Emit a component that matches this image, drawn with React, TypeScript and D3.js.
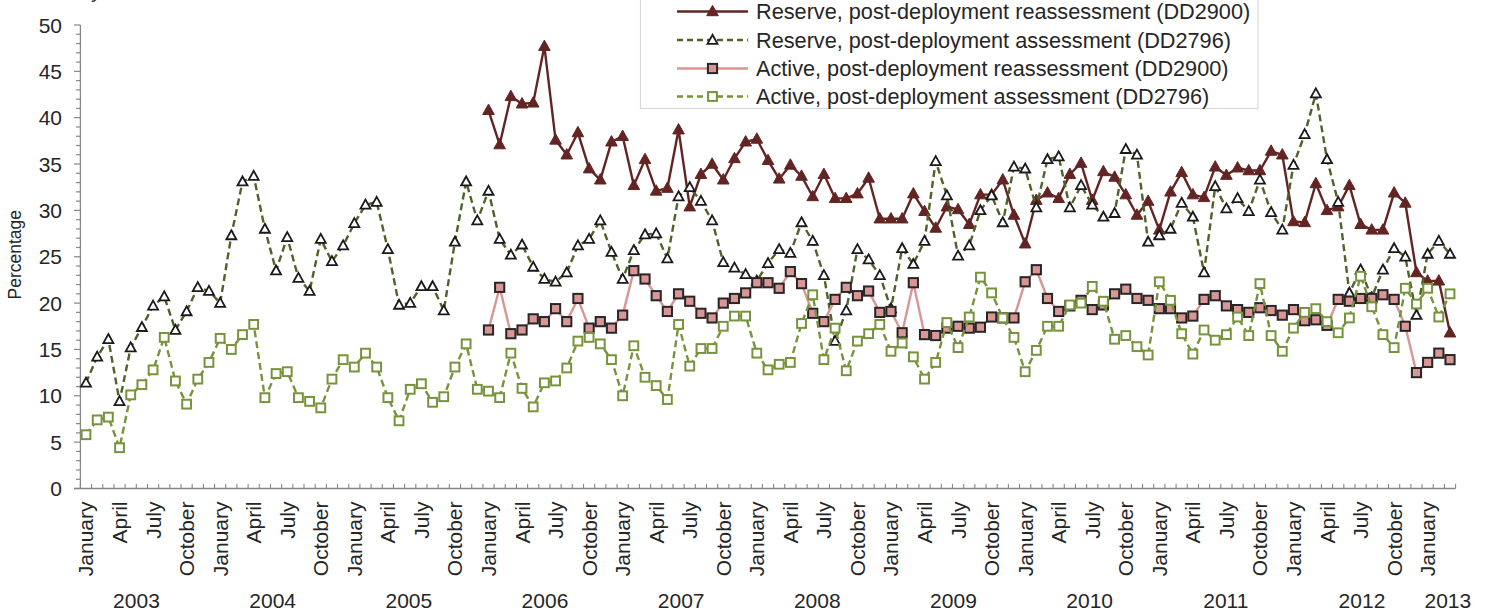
import React from "react";
import * as d3 from "d3";

// ---------- data ----------
const monthNames = ["January", "April", "July", "October"];
const years = ["2003", "2004", "2005", "2006", "2007", "2008", "2009", "2010", "2011", "2012", "2013"];
const nMonths = 123; // Jan 2003 .. Mar 2013
const reassessStart = 36; // Jan 2006
const yTicks = [0, 5, 10, 15, 20, 25, 30, 35, 40, 45, 50];

const reserveReassessment = [
  40.8, 37.1, 42.3, 41.5, 41.6, 47.7, 37.6, 36.0, 38.4, 34.5, 33.3, 37.4,
  38.0, 32.7, 35.5, 32.1, 32.4, 38.7, 30.4, 33.9, 35.0, 33.3, 35.6, 37.4,
  37.7, 35.4, 33.4, 34.9, 33.7, 31.5, 33.9, 31.3, 31.3, 31.8, 33.5, 29.1,
  29.1, 29.1, 31.8, 29.9, 28.1, 30.4, 30.1, 28.5, 31.7, 31.7, 33.3, 29.5,
  26.4, 31.1, 31.9, 31.3, 33.9, 35.1, 31.1, 34.2, 33.6, 31.7, 29.5, 31.0,
  27.9, 32.0, 34.1, 31.7, 31.4, 34.7, 33.8, 34.6, 34.3, 34.3, 36.4, 36.0,
  28.8, 28.7, 32.9, 30.0, 30.4, 32.7, 28.5, 27.9, 27.9, 31.9, 30.8, 23.3,
  22.4, 22.4, 16.8,
];

const reserveAssessment = [
  11.4, 14.2, 16.1, 9.4, 15.2, 17.4, 19.7, 20.7, 17.1, 19.1, 21.7, 21.3,
  20.0, 27.3, 33.1, 33.7, 28.0, 23.5, 27.1, 22.7, 21.3, 26.9, 24.5, 26.2,
  28.6, 30.6, 30.9, 25.8, 19.8, 20.0, 21.8, 21.8, 19.2, 26.6, 33.1, 28.9,
  32.1, 26.9, 25.2, 26.3, 23.9, 22.6, 22.3, 23.3, 26.2, 26.9, 28.9, 25.5,
  22.6, 25.7, 27.4, 27.5, 24.8, 31.5, 32.5, 31.0, 28.9, 24.4, 23.8, 23.1,
  22.4, 24.3, 25.8, 25.4, 28.7, 26.7, 23.0, 15.9, 19.2, 25.8, 24.7, 23.0,
  19.4, 25.9, 24.2, 26.7, 35.3, 31.6, 25.1, 26.2, 30.0, 31.6, 28.7, 34.7,
  34.5, 30.3, 35.5, 35.8, 30.3, 32.7, 30.6, 29.3, 29.7, 36.6, 36.0, 26.6,
  27.3, 28.0, 30.8, 29.3, 23.3, 32.6, 30.2, 31.3, 29.9, 33.3, 29.8, 27.9,
  34.9, 38.2, 42.6, 35.5, 30.9, 21.1, 23.6, 20.6, 23.6, 25.9, 25.0, 18.7,
  25.3, 26.7, 25.3,
];

const activeReassessment = [
  17.1, 21.7, 16.7, 17.1, 18.3, 18.0, 19.4, 18.0, 20.5, 17.3, 18.0, 17.3,
  18.7, 23.5, 22.6, 20.8, 19.1, 21.0, 20.2, 18.9, 18.4, 20.0, 20.5, 21.1,
  22.2, 22.2, 21.6, 23.4, 22.1, 18.9, 18.0, 20.4, 21.7, 20.8, 21.3, 19.0,
  19.1, 16.8, 22.2, 16.6, 16.5, 17.3, 17.5, 17.3, 17.4, 18.5, 18.4, 18.4,
  22.3, 23.6, 20.5, 19.1, 19.7, 20.3, 19.3, 19.8, 21.0, 21.5, 20.5, 20.3,
  19.4, 19.4, 18.4, 18.6, 20.4, 20.8, 19.7, 19.3, 19.0, 19.5, 19.2, 18.7,
  19.3, 18.1, 18.2, 17.6, 20.4, 20.2, 20.5, 20.5, 20.9, 20.4, 17.5, 12.5,
  13.6, 14.6, 13.9,
];

const activeAssessment = [
  5.8, 7.4, 7.7, 4.4, 10.1, 11.2, 12.8, 16.3, 11.6, 9.1, 11.8, 13.6,
  16.2, 15.0, 16.6, 17.7, 9.8, 12.4, 12.6, 9.8, 9.4, 8.7, 11.8, 13.9,
  13.1, 14.6, 13.1, 9.8, 7.3, 10.7, 11.3, 9.3, 9.9, 13.1, 15.6, 10.7,
  10.5, 9.8, 14.6, 10.8, 8.8, 11.4, 11.6, 13.0, 15.9, 16.3, 15.6, 13.9,
  10.0, 15.4, 12.0, 11.1, 9.6, 17.7, 13.2, 15.1, 15.1, 17.5, 18.6, 18.6,
  14.6, 12.8, 13.4, 13.6, 17.8, 20.9, 13.9, 17.3, 12.7, 15.9, 16.7, 17.7,
  14.8, 15.7, 14.2, 11.8, 13.6, 17.9, 15.2, 18.5, 22.8, 21.1, 18.4, 16.3,
  12.6, 14.9, 17.5, 17.5, 19.8, 20.0, 21.8, 20.2, 16.1, 16.5, 15.3, 14.4,
  22.3, 20.3, 16.7, 14.5, 17.1, 16.0, 16.6, 18.5, 16.5, 22.1, 16.5, 14.8,
  17.3, 19.0, 19.4, 18.0, 16.8, 18.4, 22.9, 19.6, 16.6, 15.2, 21.6, 19.9,
  21.6, 18.5, 21.0,
];

const legendLabels = [
  "Reserve, post-deployment reassessment (DD2900)",
  "Reserve, post-deployment assessment (DD2796)",
  "Active, post-deployment reassessment (DD2900)",
  "Active, post-deployment assessment (DD2796)",
];

// ---------- styles ----------
const W = 1489;
const H = 610;
const FONT = "'Liberation Sans', Arial, sans-serif";
const TEXT = "#262626";
const AXIS = "#868686";

const C_RR = "#632523";
const C_RA = "#4f6228";
const C_AR = "#d99694";
const C_AA = "#77933c";

const x = d3
  .scaleBand<number>()
  .domain(d3.range(nMonths))
  .range([80.4, 1455.6])
  .paddingInner(0)
  .paddingOuter(0);
const bw = x.bandwidth();
const cx = (i: number) => (x(i) as number) + bw / 2;
const y = d3.scaleLinear().domain([0, 50]).range([488.5, 25]);

type Pt = { i: number; v: number };
const mk = (arr: number[], start: number): Pt[] => arr.map((v, k) => ({ i: start + k, v }));

const sRR = mk(reserveReassessment, reassessStart);
const sRA = mk(reserveAssessment, 0);
const sAR = mk(activeReassessment, reassessStart);
const sAA = mk(activeAssessment, 0);

const line = d3
  .line<Pt>()
  .x((d) => cx(d.i))
  .y((d) => y(d.v));

const triFilled = "M0,-6.2L5.8,4.2L-5.8,4.2Z";
const triHollow = "M0,-5.2L5,3.8L-5,3.8Z";

function Marker({ kind, px, py }: { kind: number; px: number; py: number }) {
  if (kind === 0)
    return <path d={triFilled} transform={`translate(${px},${py})`} fill={C_RR} stroke={C_RR} strokeWidth={1} />;
  if (kind === 1)
    return <path d={triHollow} transform={`translate(${px},${py})`} fill="#fff" stroke="#1a1a1a" strokeWidth={1.8} />;
  if (kind === 2)
    return <rect x={px - 4.6} y={py - 4.6} width={9.2} height={9.2} fill={C_AR} stroke="#262626" strokeWidth={2} />;
  return <rect x={px - 4.4} y={py - 4.4} width={8.8} height={8.8} fill="#fff" stroke={C_AA} strokeWidth={2} />;
}

const seriesDefs = [
  { data: sRR, color: C_RR, dash: undefined as string | undefined, kind: 0 },
  { data: sRA, color: C_RA, dash: "7,4", kind: 1 },
  { data: sAR, color: C_AR, dash: undefined as string | undefined, kind: 2 },
  { data: sAA, color: C_AA, dash: "7,4", kind: 3 },
];

export default function App() {
  const minorTicks = d3.range(0, 51, 1);
  const boundaries = d3.range(nMonths + 1).map((k) => 80.4 + k * bw);
  const monthLabelIdx = d3.range(nMonths).filter((i) => i % 3 === 0);
  const yearCenters = years.map((yr, k) => {
    const first = k * 12;
    const last = Math.min(first + 11, nMonths - 1);
    // group-label placement drifts slightly across the axis in the original
    return { yr, xc: (cx(first) + cx(last)) / 2 - 11 + 2.0 * k };
  });

  const legX0 = 677;
  const legX1 = 748;
  const legRows = [11.5, 40, 68.5, 96.5];

  return (
    <svg
      width={W}
      height={H}
      style={{ position: "absolute", left: 0, top: 0, background: "#fff" }}
      fontFamily={FONT}
    >
      <rect x={0} y={0} width={W} height={H} fill="#fff" />
      {/* cut-off title descender */}
      <text x={91} y={-2.5} fontSize={21} fill="#1f3b4d">y</text>

      {/* y axis */}
      <line x1={80.4} x2={80.4} y1={y(50)} y2={y(0)} stroke={AXIS} strokeWidth={1.3} />
      {minorTicks.map((t) => (
        <line
          key={"mt" + t}
          x1={t % 5 === 0 ? 74 : 76}
          x2={80.4}
          y1={y(t)}
          y2={y(t)}
          stroke={AXIS}
          strokeWidth={1.2}
        />
      ))}
      {yTicks.map((t) => (
        <text key={"yl" + t} x={62} y={y(t) + 7.5} fontSize={21} fill={TEXT} textAnchor="end">
          {t}
        </text>
      ))}
      <text
        transform={`translate(20.5,${(y(0) + y(50)) / 2 - 2}) rotate(-90)`}
        fontSize={17.5}
        fill={TEXT}
        textAnchor="middle"
      >
        Percentage
      </text>

      {/* x axis */}
      <line x1={74} x2={1455.6} y1={y(0)} y2={y(0)} stroke={AXIS} strokeWidth={1.3} />
      {boundaries.map((bx, k) => (
        <line key={"xt" + k} x1={bx} x2={bx} y1={y(0) - 4.5} y2={y(0)} stroke={AXIS} strokeWidth={1.1} />
      ))}
      {monthLabelIdx.map((i) => (
        <text
          key={"ml" + i}
          transform={`translate(${cx(i) + 7.5},501.5) rotate(-90)`}
          fontSize={21}
          fill={TEXT}
          textAnchor="end"
        >
          {monthNames[(i % 12) / 3]}
        </text>
      ))}
      {yearCenters.map((d) => (
        <text key={"yr" + d.yr} x={d.xc} y={607.5} fontSize={21} fill={TEXT} textAnchor="middle">
          {d.yr}
        </text>
      ))}

      {/* series */}
      {seriesDefs.map((s, k) => (
        <g key={"s" + k}>
          <path
            d={line(s.data) || ""}
            fill="none"
            stroke={s.color}
            strokeWidth={2.4}
            strokeDasharray={s.dash}
            strokeLinejoin="round"
          />
          {s.data.map((d) => (
            <Marker key={d.i} kind={s.kind} px={cx(d.i)} py={y(d.v)} />
          ))}
        </g>
      ))}

      {/* legend */}
      <rect x={640.5} y={-10} width={617.5} height={118.5} fill="#fff" stroke="#d9d9d9" strokeWidth={1.2} />
      {seriesDefs.map((s, k) => {
        const ry = legRows[k];
        const mx = (legX0 + legX1) / 2;
        return (
          <g key={"lg" + k}>
            <line
              x1={legX0}
              x2={legX1}
              y1={ry}
              y2={ry}
              stroke={s.color}
              strokeWidth={2.4}
              strokeDasharray={s.dash ? "6,4" : undefined}
            />
            <Marker kind={s.kind} px={mx} py={ry} />
            <text x={756} y={ry + 7.7} fontSize={21.7} fill={TEXT}>
              {legendLabels[k]}
            </text>
          </g>
        );
      })}
    </svg>
  );
}
